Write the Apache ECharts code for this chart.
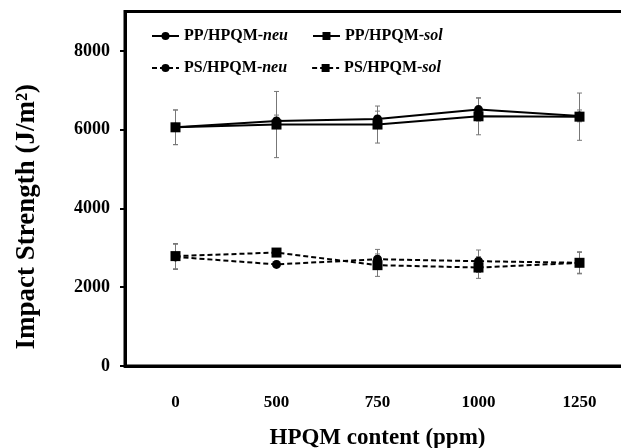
<!DOCTYPE html>
<html style="height: 100%">
<head>
<meta charset="utf-8">
</head>
<body style="height: 100%; margin: 0; background: #fff">
<div id="container" style="width: 621px; height: 448px"></div>
<script src="https://cdn.jsdelivr.net/npm/echarts@6/dist/echarts.min.js"></script>
<script>
var contents = ['0', '500', '750', '1000', '1250'];
var yTicks = [0, 2000, 4000, 6000, 8000];

var ppNeu = [6060, 6220, 6270, 6510, 6350];
var ppNeuErr = [440, 150, 200, 290, 150];
var ppSol = [6060, 6130, 6130, 6340, 6330];
var ppSolErr = [440, 840, 470, 470, 600];
var psNeu = [2770, 2580, 2710, 2660, 2620];
var psNeuErr = [320, 80, 250, 285, 265];
var psSol = [2790, 2880, 2560, 2500, 2620];
var psSolErr = [320, 80, 285, 275, 280];

var font = "'Liberation Serif', 'Times New Roman', serif";
var chart = echarts.init(document.getElementById('container'));

function errData(vals, errs) {
	return vals.map(function (v, i) { return [i, v - errs[i], v + errs[i]]; });
}

function errSeries(vals, errs) {
	return {
		type: 'custom',
		z: 1,
		silent: true,
		data: errData(vals, errs),
		renderItem: function (params, api) {
			var lo = api.coord([api.value(0), api.value(1)]);
			var hi = api.coord([api.value(0), api.value(2)]);
			var w = 2.5;
			var st = { stroke: '#777', lineWidth: 1 };
			return {
				type: 'group',
				children: [
					{ type: 'line', shape: { x1: lo[0], y1: lo[1], x2: hi[0], y2: hi[1] }, style: st },
					{ type: 'line', shape: { x1: hi[0] - w, y1: hi[1], x2: hi[0] + w, y2: hi[1] }, style: st },
					{ type: 'line', shape: { x1: lo[0] - w, y1: lo[1], x2: lo[0] + w, y2: lo[1] }, style: st }
				]
			};
		}
	};
}

function lineSeries(name, vals, symbol, size, dashed) {
	return {
		name: name,
		type: 'line',
		z: 3,
		data: vals,
		symbol: symbol,
		symbolSize: size,
		showAllSymbol: true,
		itemStyle: { color: '#000' },
		lineStyle: { color: '#000', width: 2, type: dashed ? [5, 3] : 'solid' }
	};
}

var legendText = {
	fontFamily: font,
	fontSize: 16,
	fontWeight: 'bold',
	color: '#000',
	rich: {
		b: { fontFamily: font, fontSize: 16, fontWeight: 'bold', color: '#000' },
		i: { fontFamily: font, fontSize: 16, fontWeight: 'bold', fontStyle: 'italic', color: '#000' }
	}
};
function legendFmt(name) {
	var k = name.lastIndexOf('-');
	return '{b|' + name.slice(0, k + 1) + '}{i|' + name.slice(k + 1) + '}';
}

var option = {
	animation: false,
	backgroundColor: '#fff',
	grid: {
		left: 125, top: 11.5, width: 505, bottom: 82,
		outerBoundsMode: 'none',
		containLabel: false,
		show: true, borderColor: '#000', borderWidth: 3
	},
	legend: [{
		data: ['PP/HPQM-neu', 'PP/HPQM-sol'],
		left: 146, top: 23,
		itemWidth: 27, itemHeight: 10, itemGap: 24,
		formatter: legendFmt,
		textStyle: legendText
	}, {
		data: ['PS/HPQM-neu', 'PS/HPQM-sol'],
		left: 146, top: 55,
		itemWidth: 27, itemHeight: 10, itemGap: 24,
		formatter: legendFmt,
		textStyle: legendText
	}],
	xAxis: {
		type: 'category',
		data: contents,
		boundaryGap: true,
		name: 'HPQM content (ppm)',
		nameLocation: 'middle',
		nameGap: 61,
		nameTextStyle: { fontFamily: font, fontSize: 23, fontWeight: 'bold', color: '#000' },
		axisLine: { lineStyle: { color: '#000', width: 3 } },
		axisTick: { alignWithLabel: true, length: 4, lineStyle: { color: '#000', width: 3 } },
		axisLabel: { margin: 28, fontFamily: font, fontSize: 17, fontWeight: 'bold', color: '#000' },
		splitLine: { show: false }
	},
	yAxis: {
		type: 'value',
		min: 0, max: 9000, interval: 2000,
		name: 'Impact Strength (J/m\u00b2)',
		nameLocation: 'middle',
		nameGap: 84,
		nameTextStyle: { fontFamily: font, fontSize: 27, fontWeight: 'bold', color: '#000', padding: [0, 56, 0, 0] },
		axisLine: { show: true, lineStyle: { color: '#000', width: 3 } },
		axisTick: { show: true, length: 5, customValues: yTicks, lineStyle: { color: '#000', width: 2 } },
		axisLabel: {
			margin: 15, customValues: yTicks,
			formatter: function (v) { return String(v); },
			fontFamily: font, fontSize: 18, fontWeight: 'bold', color: '#000'
		},
		splitLine: { show: false }
	},
	series: [
		errSeries(ppNeu, ppNeuErr),
		errSeries(ppSol, ppSolErr),
		errSeries(psNeu, psNeuErr),
		errSeries(psSol, psSolErr),
		lineSeries('PP/HPQM-neu', ppNeu, 'circle', 9, false),
		lineSeries('PP/HPQM-sol', ppSol, 'rect', 10, false),
		lineSeries('PS/HPQM-neu', psNeu, 'circle', 9, true),
		lineSeries('PS/HPQM-sol', psSol, 'rect', 10, true)
	]
};

chart.setOption(option);
</script>
</body>
</html>
